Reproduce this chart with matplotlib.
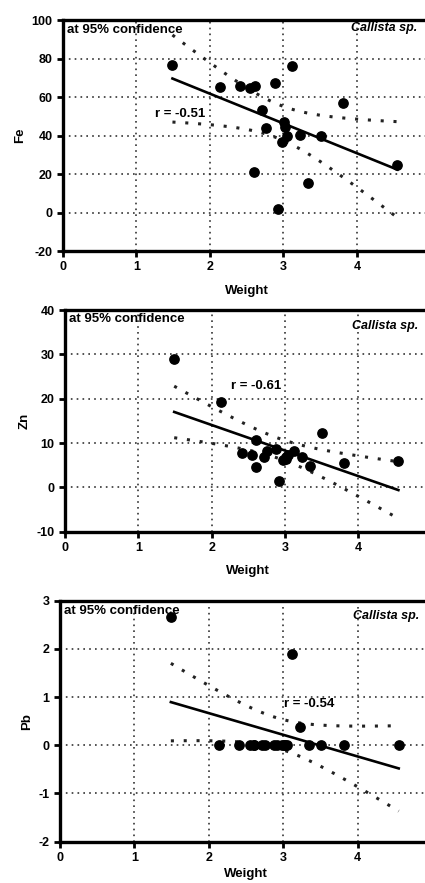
import numpy as np
import matplotlib
matplotlib.use("Agg")
import matplotlib.pyplot as plt

plt.rcParams['font.family'] = ['Liberation Sans', 'DejaVu Sans']
plt.rcParams['font.weight'] = 'bold'
plt.rcParams['axes.unicode_minus'] = False

# shared x values (weight) for all three panels
weight = [1.49, 2.13, 2.41, 2.55, 2.60, 2.61, 2.71, 2.76, 2.88, 2.92,
          2.98, 3.01, 3.02, 3.05, 3.12, 3.23, 3.34, 3.51, 3.81, 4.55]

fe = [76.8, 65.0, 65.9, 64.5, 20.8, 65.9, 53.4, 44.0, 67.2, 1.6,
      36.7, 47.0, 44.2, 39.9, 76.0, 40.4, 15.4, 39.7, 56.7, 24.6]
zn = [28.9, 19.3, 7.7, 7.3, 4.5, 10.6, 6.8, 8.3, 8.6, 1.4,
      6.2, 6.9, 6.5, 7.2, 8.3, 6.8, 4.8, 12.3, 5.6, 6.0]
pb = [2.65, 0.0, 0.0, 0.0, 0.0, 0.0, 0.0, 0.0, 0.0, 0.0,
      0.0, 0.0, 0.0, 0.0, 1.89, 0.38, 0.0, 0.0, 0.0, 0.0]

r_labels = ["r = -0.51", "r = -0.61", "r = -0.54"]
r_pos = [(1.25, 51), (2.27, 22.8), (3.01, 0.85)]
ylabels = ["Fe", "Zn", "Pb"]
ylims = [(-20, 100), (-10, 40), (-2, 3)]
ysteps = [20, 10, 1]
T_CRIT = 2.101  # t(0.975, df=18)

fig = plt.figure(figsize=(4.25, 8.83), dpi=100)
# [left, bottom, width, height]
boxes = [[0.148, 0.7157, 0.865, 0.2616],
         [0.153, 0.3978, 0.862, 0.2511],
         [0.141, 0.0468, 0.876, 0.2730]]
txt_y = [(0.957, 0.965), (0.96, 0.93), (0.955, 0.935)]
xlab_pad = [8, 8, 3]

x = np.array(weight)
for i, yvals in enumerate([fe, zn, pb]):
    y = np.array(yvals)
    ax = fig.add_axes(boxes[i])
    ax.set_xlim(0, 5)
    ax.set_ylim(*ylims[i])
    ax.set_xticks([0, 1, 2, 3, 4])
    ax.set_yticks(np.arange(ylims[i][0], ylims[i][1] + 0.001, ysteps[i]))
    ax.grid(True, linestyle=(0, (1, 2.5)), color='#333333', linewidth=1.2)
    ax.set_axisbelow(True)
    for s in ['left', 'bottom', 'top']:
        ax.spines[s].set_linewidth(2.4)
    ax.spines['right'].set_visible(False)
    ax.tick_params(direction='out', length=4, width=2, labelsize=9)
    for lab in ax.get_xticklabels() + ax.get_yticklabels():
        lab.set_fontweight('bold')

    # regression with 95% confidence band
    n = len(x)
    slope, icpt = np.polyfit(x, y, 1)
    xs = np.linspace(x.min(), x.max(), 100)
    yhat = slope * xs + icpt
    resid = y - (slope * x + icpt)
    s_err = np.sqrt(np.sum(resid ** 2) / (n - 2))
    sxx = np.sum((x - x.mean()) ** 2)
    half = T_CRIT * s_err * np.sqrt(1.0 / n + (xs - x.mean()) ** 2 / sxx)
    ax.plot(xs, yhat, color='black', lw=1.9, zorder=3)
    ax.plot(xs, yhat + half, color='#222222', lw=2.2, ls=(0, (1, 3.2)), zorder=3)
    ax.plot(xs, yhat - half, color='#222222', lw=2.2, ls=(0, (1, 3.2)), zorder=3)

    ax.scatter(x, y, s=45, color='black', zorder=4)

    ax.text(0.012, txt_y[i][0], "at 95% confidence", transform=ax.transAxes,
            fontsize=9.5, fontweight='bold', va='center', ha='left')
    ax.text(4.82, ylims[i][0] + txt_y[i][1] * (ylims[i][1] - ylims[i][0]),
            "Callista sp.", fontsize=9, fontweight='bold', style='italic',
            va='center', ha='right')
    ax.text(r_pos[i][0], r_pos[i][1], r_labels[i], fontsize=9.5,
            fontweight='bold', va='center', ha='left')
    ax.set_ylabel(ylabels[i], fontsize=9.5, fontweight='bold', labelpad=4)
    ax.set_xlabel("Weight", fontsize=9.5, fontweight='bold',
                  labelpad=xlab_pad[i])

fig.savefig("out.png", dpi=100)
